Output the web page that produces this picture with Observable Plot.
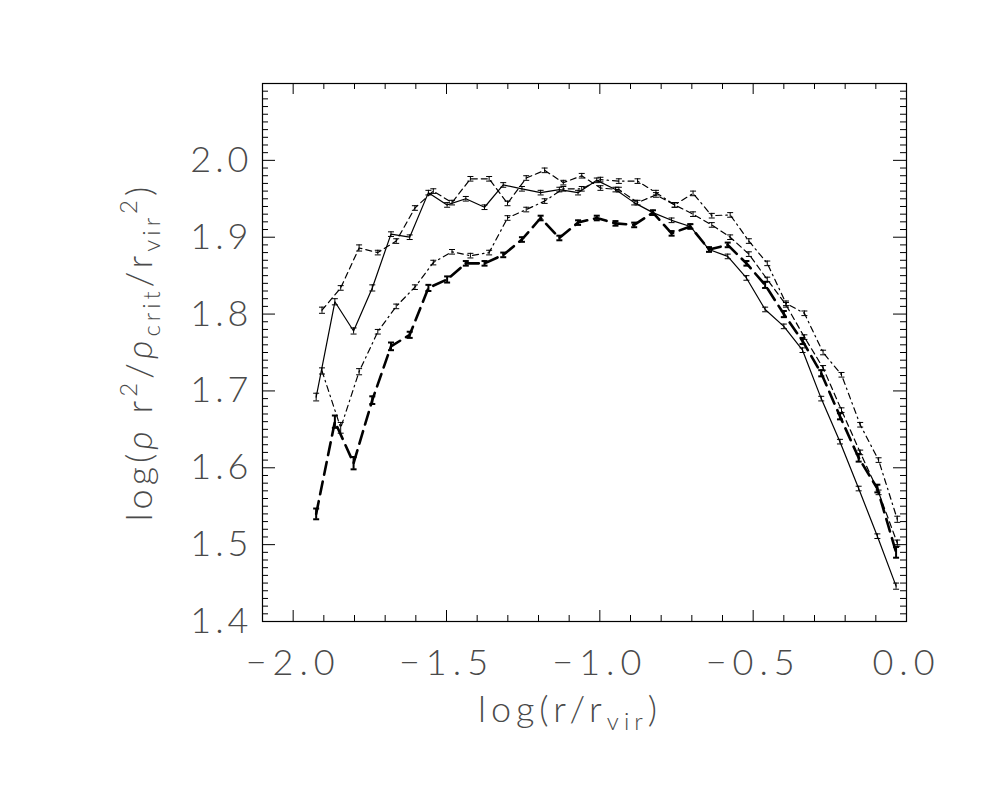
<!DOCTYPE html>
<html><head><meta charset="utf-8">
<script src="https://cdn.jsdelivr.net/npm/d3@7"></script>
<script src="https://cdn.jsdelivr.net/npm/@observablehq/plot@0.6"></script>
<style>body{margin:0;background:#fff} svg{display:block}</style>
</head><body><div id="chart"></div>
<script>
// x positions (log r/r_vir)
const xAD = [-1.925,-1.864,-1.803,-1.742,-1.681,-1.620,-1.559,-1.498,-1.437,-1.376,-1.315,-1.254,-1.193,-1.132,-1.071,-1.010,-0.949,-0.888,-0.827,-0.766,-0.705,-0.644,-0.583,-0.522,-0.461,-0.400,-0.339,-0.278,-0.217,-0.156,-0.095,-0.034];
const xBC = [-1.906,-1.845,-1.785,-1.724,-1.664,-1.603,-1.543,-1.482,-1.422,-1.361,-1.301,-1.240,-1.180,-1.119,-1.059,-0.998,-0.938,-0.877,-0.817,-0.756,-0.696,-0.635,-0.575,-0.514,-0.454,-0.393,-0.333,-0.272,-0.212,-0.151,-0.091,-0.030];

// series values
const yA = [1.692,1.816,1.778,1.834,1.904,1.900,1.958,1.942,1.950,1.939,1.968,1.963,1.958,1.962,1.958,1.974,1.962,1.945,1.932,1.922,1.914,1.884,1.875,1.847,1.806,1.784,1.753,1.690,1.634,1.573,1.511,1.446];
const yB = [1.805,1.834,1.886,1.880,1.895,1.938,1.960,1.945,1.976,1.976,1.944,1.977,1.987,1.971,1.980,1.964,1.962,1.945,1.955,1.942,1.930,1.916,1.900,1.878,1.845,1.812,1.770,1.730,1.675,1.620,1.568,1.502];
const yC = [1.726,1.652,1.725,1.777,1.810,1.835,1.867,1.881,1.876,1.880,1.925,1.936,1.947,1.963,1.963,1.975,1.973,1.973,1.958,1.942,1.957,1.928,1.929,1.895,1.866,1.814,1.801,1.750,1.721,1.656,1.610,1.533];
const yD = [1.540,1.660,1.606,1.688,1.758,1.773,1.834,1.845,1.866,1.866,1.877,1.897,1.925,1.899,1.919,1.925,1.918,1.916,1.932,1.905,1.914,1.884,1.890,1.866,1.838,1.800,1.765,1.723,1.667,1.613,1.573,1.490];

// error bar half-lengths
const eA = [0.005,0.004,0.004,0.004,0.003,0.003,0.003,0.003,0.003,0.003,0.003,0.003,0.003,0.003,0.003,0.003,0.003,0.003,0.003,0.003,0.003,0.003,0.003,0.003,0.003,0.003,0.003,0.003,0.003,0.003,0.003,0.004];
const eB = [0.004,0.003,0.004,0.003,0.003,0.003,0.003,0.003,0.003,0.003,0.003,0.003,0.003,0.003,0.003,0.003,0.003,0.003,0.003,0.003,0.003,0.003,0.003,0.003,0.003,0.003,0.003,0.003,0.003,0.003,0.003,0.004];
const eC = [0.004,0.007,0.004,0.003,0.003,0.003,0.003,0.003,0.003,0.003,0.003,0.003,0.003,0.003,0.003,0.003,0.003,0.003,0.003,0.003,0.003,0.003,0.003,0.003,0.003,0.003,0.003,0.003,0.003,0.003,0.003,0.004];
const eD = [0.007,0.008,0.008,0.005,0.005,0.004,0.004,0.004,0.003,0.003,0.003,0.003,0.003,0.003,0.003,0.003,0.003,0.003,0.003,0.003,0.003,0.003,0.003,0.003,0.004,0.004,0.004,0.004,0.004,0.005,0.005,0.007];

// axis ticks
const xMajor = [-2.0,-1.5,-1.0,-0.5,0.0];
const xMinor = [-1.9,-1.8,-1.7,-1.6,-1.4,-1.3,-1.2,-1.1,-0.9,-0.8,-0.7,-0.6,-0.4,-0.3,-0.2,-0.1];
const yMajor = [1.4,1.5,1.6,1.7,1.8,1.9,2.0];
const yMinor = d3.range(141,210).filter(v => v % 10 !== 0).map(v => v/100);

const series = [
  {name:"A", xs:xAD, ys:yA, es:eA, w:1.2, dash:null},
  {name:"B", xs:xBC, ys:yB, es:eB, w:1.2, dash:"6,4"},
  {name:"C", xs:xBC, ys:yC, es:eC, w:1.2, dash:"6,4,1.5,4"},
  {name:"D", xs:xAD, ys:yD, es:eD, w:2.6, dash:"13,7"}
];

const W = 984, H = 788, mL = 262, mR = 78, mT = 83, mB = 167;
const fw = W - mL - mR, fh = H - mT - mB;
const FONT = "Lato, 'Open Sans', 'DejaVu Sans', sans-serif";
const TXT = "#4a4a4a";

const cap = {draw(ctx, size){ const r = Math.sqrt(size/Math.PI); ctx.moveTo(-r,0); ctx.lineTo(r,0); }};
const fmt = d => d.toFixed(1).replace("-", "\u2212");

const marks = [];
for (const s of series) {
  const rows = s.xs.map((x,i) => ({x, y:s.ys[i], lo:s.ys[i]-s.es[i], hi:s.ys[i]+s.es[i]}));
  marks.push(Plot.line(rows, {x:"x", y:"y", stroke:"#000", strokeWidth:s.w, strokeDasharray:s.dash, strokeLinejoin:"round"}));
  const ew = s.name === "D" ? 2 : 1;
  marks.push(Plot.ruleX(rows, {x:"x", y1:"lo", y2:"hi", stroke:"#000", strokeWidth:ew}));
  marks.push(Plot.dot(rows, {x:"x", y:"lo", symbol:cap, r:3, fill:"none", stroke:"#000", strokeWidth:ew}));
  marks.push(Plot.dot(rows, {x:"x", y:"hi", symbol:cap, r:3, fill:"none", stroke:"#000", strokeWidth:ew}));
}

const plot = Plot.plot({
  width: W, height: H,
  marginLeft: mL, marginRight: mR, marginTop: mT, marginBottom: mB,
  style: {fontFamily: FONT, color: TXT, background: "#fff"},
  x: {domain: [-2.1, 0], label: null},
  y: {domain: [1.4, 2.1], label: null},
  marks: [
    Plot.frame({stroke:"#000", strokeWidth:1.2}),
    // inward ticks
    Plot.tickX(xMajor, {x:d=>d, insetTop: fh-11, stroke:"#000"}),
    Plot.tickX(xMinor, {x:d=>d, insetTop: fh-6, stroke:"#000"}),
    Plot.tickX(xMajor, {x:d=>d, insetBottom: fh-11, stroke:"#000"}),
    Plot.tickX(xMinor, {x:d=>d, insetBottom: fh-6, stroke:"#000"}),
    Plot.tickY(yMajor, {y:d=>d, insetRight: fw-13, stroke:"#000"}),
    Plot.tickY(yMinor, {y:d=>d, insetRight: fw-6, stroke:"#000"}),
    Plot.tickY(yMajor, {y:d=>d, insetLeft: fw-13, stroke:"#000"}),
    Plot.tickY(yMinor, {y:d=>d, insetLeft: fw-6, stroke:"#000"}),
    Plot.axisX(xMajor, {anchor:"bottom", tickSize:0, tickPadding:28, tickFormat:fmt, fontSize:36, fontWeight:300, label:null, fill:TXT}),
    Plot.axisY(yMajor, {anchor:"left", tickSize:0, tickPadding:10, tickFormat:fmt, fontSize:36, fontWeight:300, label:null, fill:TXT}),
    ...marks
  ]
});

const svg = d3.select(plot);
svg.selectAll("[aria-label='x-axis tick label'] text").style("letter-spacing","6px");
svg.selectAll("[aria-label='y-axis tick label'] text").style("letter-spacing","4px");

function addLabel(g, parts) {
  for (const p of parts) {
    const t = g.append("tspan").text(p.t);
    if (p.dy) t.attr("dy", p.dy);
    if (p.fs) t.attr("font-size", p.fs);
    if (p.it) t.attr("font-style", "italic");
  }
}
const ylab = svg.append("text")
  .attr("transform", "translate(152,352) rotate(-90)")
  .attr("text-anchor", "middle")
  .attr("font-size", 36).attr("font-weight", 300).attr("fill", TXT)
  .attr("font-family", FONT).style("letter-spacing", "4px");
addLabel(ylab, [
  {t:"log("}, {t:"\u03c1", it:true}, {t:" r"}, {t:"2", fs:24, dy:-15},
  {t:"/", dy:15}, {t:"\u03c1", it:true}, {t:"crit", fs:24, dy:8},
  {t:"/r", dy:-8}, {t:"vir", fs:24, dy:8}, {t:"2", fs:24, dy:-23}, {t:")", dy:15}
]);
const xlab = svg.append("text")
  .attr("transform", "translate(570,722)")
  .attr("text-anchor", "middle")
  .attr("font-size", 36).attr("font-weight", 300).attr("fill", TXT)
  .attr("font-family", FONT).style("letter-spacing", "5px");
addLabel(xlab, [{t:"log(r/r"}, {t:"vir", fs:24, dy:8}, {t:")", dy:-8}]);

document.getElementById("chart").appendChild(plot);
</script>
</body></html>
